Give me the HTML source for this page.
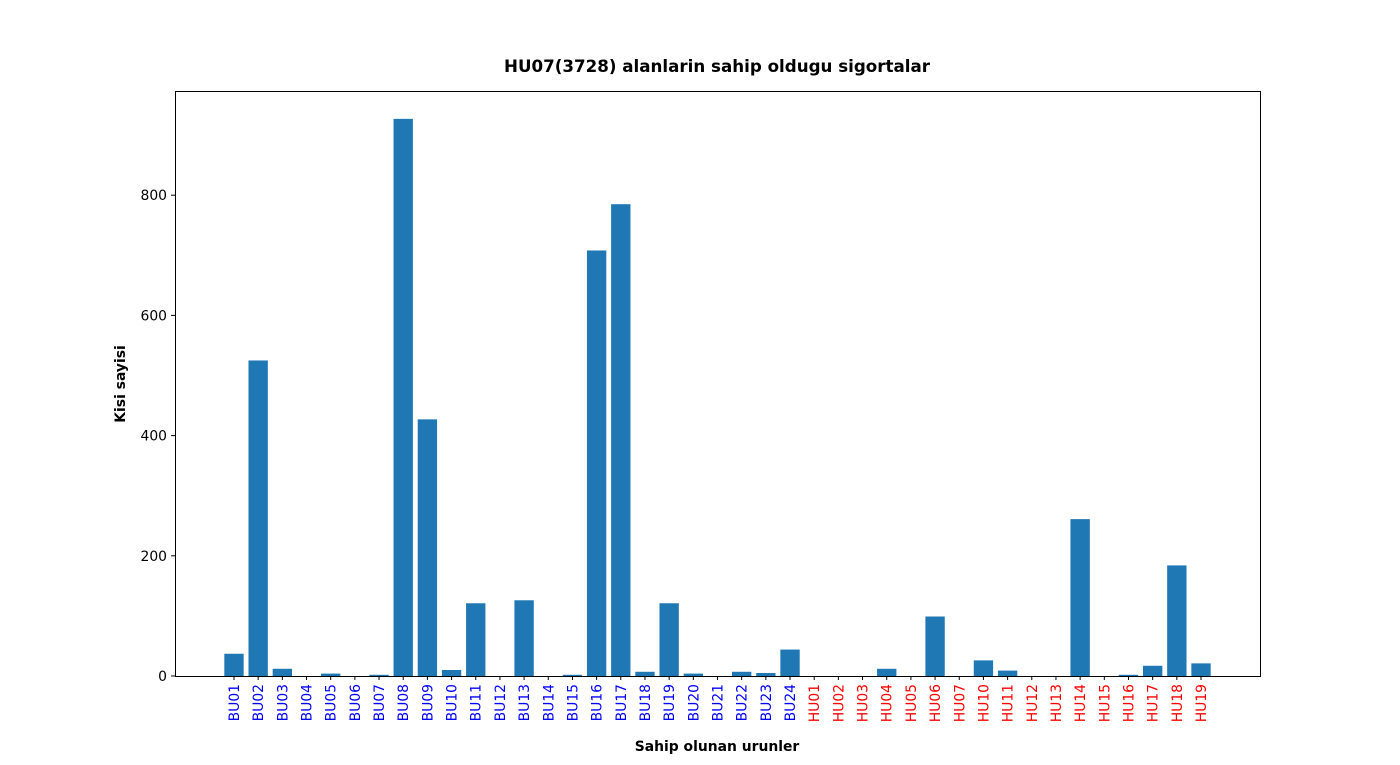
<!DOCTYPE html>
<html><head><meta charset="utf-8"><style>body{margin:0;background:#fff}svg{font-family:"DejaVu Sans","Liberation Sans",sans-serif}</style></head>
<body>
<svg id="c" width="1400" height="760">
<text x="717" y="72" text-anchor="middle" font-size="16.7" font-weight="bold">HU07(3728) alanlarin sahip oldugu sigortalar</text>
<text x="717" y="751" text-anchor="middle" font-size="13.9" font-weight="bold">Sahip olunan urunler</text>
<text transform="translate(125,384) rotate(-90)" text-anchor="middle" font-size="13.9" font-weight="bold">Kisi sayisi</text>
<g id="bars"></g><g id="xt"></g><g id="yt"></g>
<rect x="175.5" y="91.5" width="1085" height="585" fill="none" stroke="#000" stroke-width="1"/>
</svg>
<script>
const categories=["BU01","BU02","BU03","BU04","BU05","BU06","BU07","BU08","BU09","BU10","BU11","BU12","BU13","BU14","BU15","BU16","BU17","BU18","BU19","BU20","BU21","BU22","BU23","BU24","HU01","HU02","HU03","HU04","HU05","HU06","HU07","HU10","HU11","HU12","HU13","HU14","HU15","HU16","HU17","HU18","HU19"];
const values=[37,525,12,0,4,0,2,927,427,10,121,0,126,0,2,708,785,7,121,4,0,7,5,44,0,0,0,12,0,99,0,26,9,0,0,261,0,2,17,184,21];
const yTicks=[0,200,400,600,800];
const NS="http://www.w3.org/2000/svg";
const x0=175,x1=1260,y0=676,y1=91;
const n=categories.length;
const xmin=-0.4-0.05*(n-0.2),xmax=n-1+0.4+0.05*(n-0.2);
const ymax=Math.max(...values)*1.05;
const X=v=>x0+(v-xmin)/(xmax-xmin)*(x1-x0);
const Y=v=>y0-v/ymax*(y0-y1);
const mk=(t,a)=>{const e=document.createElementNS(NS,t);for(const k in a)e.setAttribute(k,a[k]);return e;};
const bars=document.getElementById('bars'),xt=document.getElementById('xt'),yt=document.getElementById('yt');
categories.forEach((c,i)=>{
 const r=mk('rect',{x:X(i-0.4),y:Y(values[i]),width:X(0.8)-X(0),height:Y(0)-Y(values[i]),fill:'#1f77b4'});
 
 
 bars.appendChild(r);
 const cx=X(i);
 const tk=mk('line',{x1:cx,x2:cx,y1:y0,y2:y0+4,stroke:'#000'});
 
 
 xt.appendChild(tk);
 const t=mk('text',{transform:`translate(${cx+5},${y0+8}) rotate(-90)`,'text-anchor':'end','font-size':'13.9',fill:c.startsWith('BU')?'#0000ff':'#ff0000'});
 t.textContent=c;
 
 
 xt.appendChild(t);
});
yTicks.forEach(v=>{
 const y=Y(v);
 const tk=mk('line',{x1:x0-4,x2:x0,y1:y,y2:y,stroke:'#000'});
 
 
 yt.appendChild(tk);
 const t=mk('text',{x:x0-8,y:y+5,'text-anchor':'end','font-size':'13.9'});
 t.textContent=v;
 
 
 yt.appendChild(t);
});
</script>
</body></html>
